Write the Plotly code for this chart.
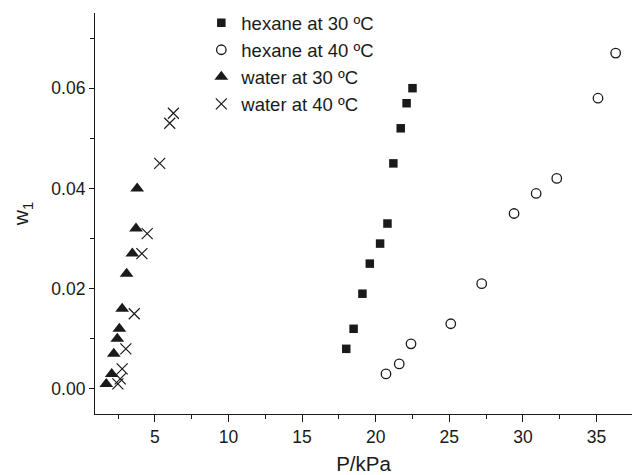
import plotly.graph_objects as go

# Data
hex30_P = [18.0, 18.5, 19.1, 19.6, 20.3, 20.8, 21.2, 21.7, 22.1, 22.5]
hex30_w = [0.008, 0.012, 0.019, 0.025, 0.029, 0.033, 0.045, 0.052, 0.057, 0.060]

hex40_P = [20.7, 21.6, 22.4, 25.1, 27.2, 29.4, 30.9, 32.3, 35.1, 36.3]
hex40_w = [0.003, 0.005, 0.009, 0.013, 0.021, 0.035, 0.039, 0.042, 0.058, 0.067]

wat30_P = [1.7, 2.07, 2.21, 2.45, 2.59, 2.78, 3.08, 3.47, 3.72, 3.80]
wat30_w = [0.001, 0.003, 0.007, 0.010, 0.012, 0.016, 0.023, 0.027, 0.032, 0.040]

wat40_P = [2.49, 2.65, 2.78, 3.03, 3.60, 4.12, 4.48, 5.33, 6.01, 6.26]
wat40_w = [0.001, 0.002, 0.004, 0.008, 0.015, 0.027, 0.031, 0.045, 0.053, 0.055]

names = ["hexane at 30 ºC", "hexane at 40 ºC", "water at 30 ºC", "water at 40 ºC"]

INK = "#1a1a1a"
FONT = "Liberation Sans, Arial, sans-serif"

fig = go.Figure()
fig.add_trace(go.Scatter(x=hex30_P, y=hex30_w, mode="markers", name=names[0],
                         marker=dict(symbol="square", size=8.5, color=INK)))
fig.add_trace(go.Scatter(x=hex40_P, y=hex40_w, mode="markers", name=names[1],
                         marker=dict(symbol="circle-open", size=9.5, color=INK,
                                     line=dict(width=1.3, color=INK))))
fig.add_trace(go.Scatter(x=wat30_P, y=wat30_w, mode="markers", name=names[2],
                         marker=dict(symbol="triangle-up", size=12, color=INK)))
fig.add_trace(go.Scatter(x=wat40_P, y=wat40_w, mode="markers", name=names[3],
                         marker=dict(symbol="x-thin-open", size=11, color=INK,
                                     line=dict(width=1.2, color=INK))))

fig.update_layout(
    width=632, height=475,
    margin=dict(l=94.5, r=0, t=12.7, b=60.7),
    paper_bgcolor="white", plot_bgcolor="white",
    font=dict(family=FONT, color=INK, size=18.5),
    showlegend=True,
    legend=dict(x=0.198, y=1.022, xanchor="left", yanchor="top",
                bgcolor="rgba(0,0,0,0)", font=dict(size=18.5, color=INK),
                tracegroupgap=0, itemsizing="trace"),
)
fig.update_xaxes(
    range=[0.935, 37.41], showgrid=False, zeroline=False,
    showline=True, linecolor=INK, linewidth=1.2,
    ticks="outside", ticklen=7, tickwidth=1.2, tickcolor=INK,
    tickmode="array", tickvals=[5, 10, 15, 20, 25, 30, 35],
    minor=dict(ticks="outside", ticklen=4, tickwidth=1.2, tickcolor=INK,
               tickvals=[2.5, 7.5, 12.5, 17.5, 22.5, 27.5, 32.5, 37.5]),
    tickfont=dict(size=17.5, color=INK),
    title=dict(text="P/kPa", font=dict(size=20.5, color=INK), standoff=12),
)
fig.update_yaxes(
    range=[-0.005, 0.075], showgrid=False, zeroline=False,
    showline=True, linecolor=INK, linewidth=1.2,
    ticks="outside", ticklen=5, tickwidth=1.2, tickcolor=INK,
    tickmode="array", tickvals=[0.0, 0.02, 0.04, 0.06],
    ticktext=["0.00", "0.02", "0.04", "0.06"],
    minor=dict(ticks="outside", ticklen=4, tickwidth=1.2, tickcolor=INK,
               tickvals=[0.01, 0.03, 0.05, 0.07]),
    tickfont=dict(size=17.5, color=INK),
    title=dict(text="w<sub>1</sub>", font=dict(size=21, color=INK), standoff=16),
)

fig.write_html("out.html")
